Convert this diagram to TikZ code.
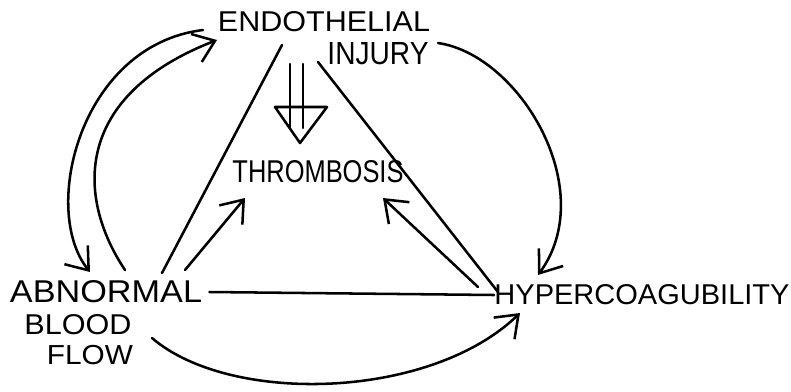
\documentclass[tikz,border=0pt]{standalone}
\usepackage{fontspec}
\setmainfont{Liberation Sans}
\usepackage{tikz}
\usetikzlibrary{arrows.meta,calc}
\tikzset{
  lbl/.style  ={inner sep=0pt},
  side/.style ={line width=1.8pt,line cap=round},
  cause/.style={side,-{Straight Barb[length=5mm,width=7.5mm]}},
}
% hand lettering: text squeezed into a box of given width and cap height
\newcommand\hand[3]{\resizebox{#1cm}{#2cm}{#3}}

\begin{document}
\begin{tikzpicture}[x=0.025cm,y=-0.025cm]
  \useasboundingbox (0,0) rectangle (791,391);
  \node[lbl](endo) at (324,22){\hand{5.3}{0.5}{ENDOTHELIAL}};  \node[lbl](inj) at (378,54){\hand{2.525}{0.55}{INJURY}};
  \node[lbl](thr) at (318,172){\hand{4.275}{0.55}{THROMBOSIS}};
  \node[lbl](abn) at (106,292){\hand{4.8}{0.55}{ABNORMAL}};
  \node[lbl](blood) at (78,325){\hand{2.675}{0.5}{BLOOD}};  \node[lbl](flow) at (90,355){\hand{2.15}{0.48}{FLOW}};
  \node[lbl](hyp) at (642,295){\hand{7.375}{0.5}{HYPERCOAGUBILITY}};
  % corners of the triad
  \coordinate (eL) at (282,45);  \coordinate (eR) at (318,62);
  \coordinate (aT) at (162,273); \coordinate (hT) at (498,292);
  \draw[side](aT)--(eL); \draw[side](eR)--(hT);
  \draw[side]([xshift=5]abn.east)--(hyp.west);
  % into the middle
  \draw[cause](185,270)--(245,198);
  \draw[cause](478,287)--(383,198);
  % double arrow
  \foreach \x in {290,303}{\draw[side](\x,64)--(\x,128);}
  \draw[side,line join=round](275,107)--(327,107)--(300,143)--cycle;
  % round the outside
  \draw[cause](203,30) .. controls (80,45) and (40,210) .. (90,272);
  \draw[cause](125,270) .. controls (75,195) and (75,95) .. (217,40);
  \draw[cause](438,43) .. controls (520,55) and (600,190) .. (538,275);
  \draw[cause](152,338) .. controls (230,405) and (430,400) .. (520,313);
\end{tikzpicture}
\end{document}
